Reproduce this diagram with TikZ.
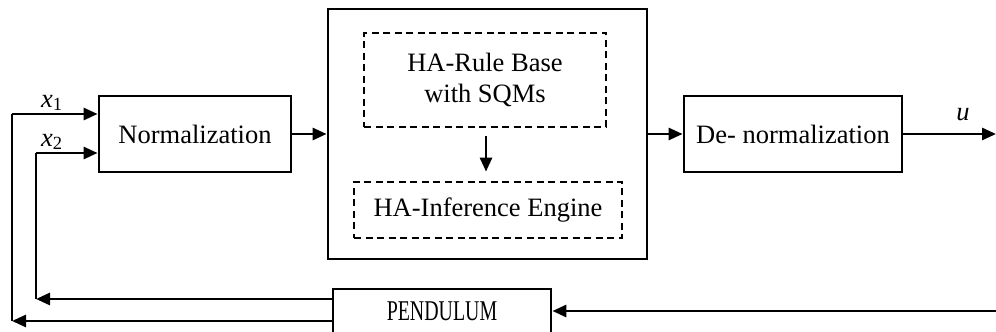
\documentclass[tikz,border=0pt]{standalone}
\usepackage{fontspec}
\setmainfont{Liberation Serif}
\usetikzlibrary{arrows.meta}
\begin{document}
\begin{tikzpicture}[x=1pt,y=1pt,
  every node/.style={font=\fontsize{26.5}{31}\selectfont},
  blk/.style={draw, line width=2.8pt, inner sep=0pt, align=center},
  dbox/.style={draw, line width=2.8pt, dash pattern=on 7pt off 4.5pt, inner sep=0pt, align=center},
  arr/.style={line width=2.8pt, -{Triangle[length=14pt,width=12pt]}},
  ln/.style={line width=2.8pt}
]
\useasboundingbox (0,0) rectangle (996,332);
\node[blk, minimum width=192pt, minimum height=76pt] (norm) at (195,198) {Normalization};
\node[blk, minimum width=319pt, minimum height=250pt] (big) at (487.5,198) {};
\node[dbox, minimum width=242pt, minimum height=94pt] (rule) at (485,252) {HA-Rule Base\\with SQMs};
\node[dbox, minimum width=268pt, minimum height=56pt] (inf) at (488,122) {HA-Inference Engine};
\node[blk, minimum width=218pt, minimum height=76pt] (den) at (793,198) {De- normalization};
\node[blk, minimum width=218pt, minimum height=44pt] (pend) at (442,21) {\scalebox{0.75}[1.08]{PENDULUM}};

\draw[arr] (norm.east) -- (big.west |- norm.east);
\draw[arr] (big.east |- den.west) -- (den.west);
\draw[arr, shorten <=8pt, shorten >=9pt] (486,0 |- rule.south) -- (486,0 |- inf.north);
\coordinate (uend) at (996,198);
\draw[arr] (den.east) -- (uend);
\node at (963,217) {\textit{u}};

\coordinate (pin) at (996,21);
\draw[arr] (pin) -- (pend.east);

\coordinate (a1) at (36,33);
\coordinate (a2) at (36,179);
\coordinate (b1) at (12,11);
\coordinate (b2) at (12,218);
\draw[arr] (pend.west |- a1) -- (a1);
\draw[arr] (pend.west |- b1) -- (b1);
\draw[ln] (a1) -- (a2);
\draw[arr] (a2) -- (norm.west |- a2);
\draw[ln] (b1) -- (b2);
\draw[arr] (b2) -- (norm.west |- b2);
\node at (52,229) {\textit{x}\textsubscript{1}};
\node at (52,190) {\textit{x}\textsubscript{2}};
\end{tikzpicture}
\end{document}
